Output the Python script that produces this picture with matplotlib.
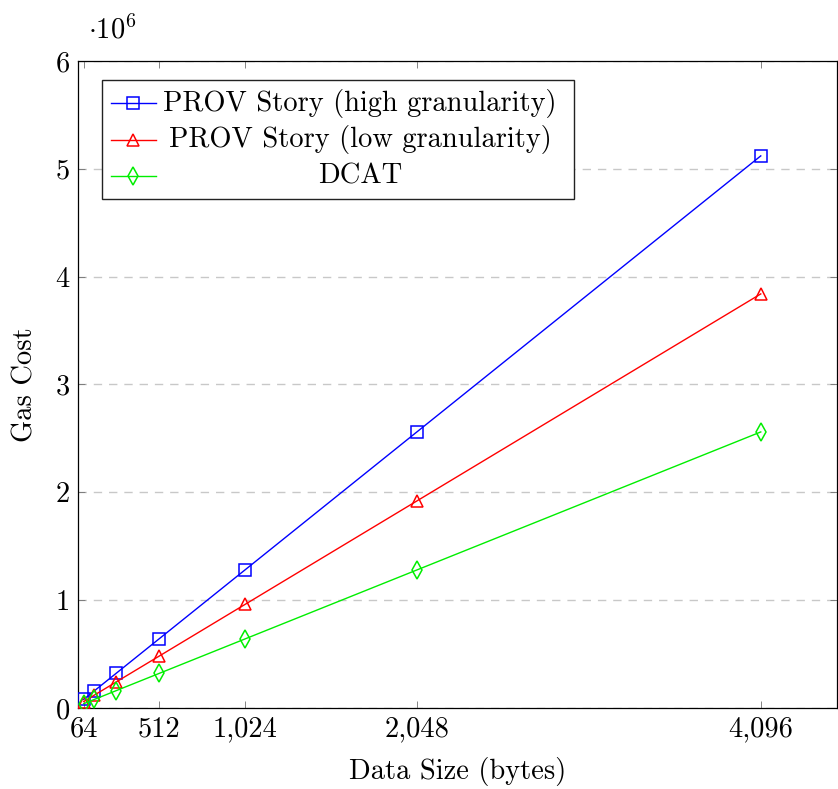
import matplotlib
matplotlib.use("Agg")
import matplotlib.pyplot as plt
from matplotlib.ticker import FuncFormatter
from matplotlib.lines import Line2D
from matplotlib.patches import Rectangle

plt.rcParams["font.family"] = ["cmr10", "DejaVu Serif"]
plt.rcParams["mathtext.fontset"] = "cm"
plt.rcParams["axes.formatter.use_mathtext"] = True

# data
data_size = [64, 128, 256, 512, 1024, 2048, 4096]
prov_high = [80000, 160000, 320000, 640000, 1280000, 2560000, 5120000]
prov_low = [60000, 120000, 240000, 480000, 960000, 1920000, 3840000]
dcat = [40000, 80000, 160000, 320000, 640000, 1280000, 2560000]
x_ticks = [64, 512, 1024, 2048, 4096]
y_ticks = [0, 1e6, 2e6, 3e6, 4e6, 5e6, 6e6]

series = [
    ("PROV Story (high granularity)", prov_high, "#0000ff", "s", 8),
    ("PROV Story (low granularity)", prov_low, "#ff0000", "^", 8),
    ("DCAT", dcat, "#00ee00", "d", 9),
]

FS = 20.5
W, H = 838, 789
fig = plt.figure(figsize=(W / 100, H / 100), dpi=100)
ax = fig.add_axes([78 / W, (H - 708) / H, (837 - 78) / W, (708 - 61) / H])

for label, vals, col, mk, ms in series:
    ax.plot(data_size, vals, color=col, lw=1.0, marker=mk, ms=ms,
            mfc="none", mec=col, mew=1.1, zorder=3)

ax.set_xlim(30, 4550)
ax.set_ylim(0, 6e6)
ax.set_xticks(x_ticks)
ax.set_yticks(y_ticks)
ax.xaxis.set_major_formatter(FuncFormatter(lambda v, p: f"{int(v):,}"))
ax.yaxis.set_major_formatter(FuncFormatter(lambda v, p: f"{v / 1e6:g}"))
ax.tick_params(direction="in", length=5, width=0.6, color="#707070",
               top=True, right=True, labelsize=FS, pad=6)
ax.grid(True, axis="y", color="#c8c8c8", ls=(0, (6, 5)), lw=1.0)
ax.set_axisbelow(True)
for s in ax.spines.values():
    s.set_linewidth(0.9)

ax.set_xlabel("Data Size (bytes)", fontsize=FS, labelpad=10)
ax.set_ylabel("Gas Cost", fontsize=FS, labelpad=12)
fig.text(88 / W, 1 - 30 / H, r"$\cdot 10^{6}$", fontsize=FS, va="center", ha="left")

# legend box drawn in figure pixels, labels centred like pgfplots
def fx(px):
    return px / W

def fy(py):
    return 1 - py / H

fig.patches.append(Rectangle((fx(102), fy(199)), fx(574) - fx(102), fy(80) - fy(199),
                             transform=fig.transFigure, fc="white", ec="#222222",
                             lw=1.0, zorder=5))
rows_y = [103, 140, 176]
for (label, vals, col, mk, ms), ry in zip(series, rows_y):
    fig.lines.append(Line2D([fx(111), fx(156)], [fy(ry), fy(ry)], transform=fig.transFigure,
                            color=col, lw=1.0, zorder=6))
    fig.lines.append(Line2D([fx(133)], [fy(ry)], transform=fig.transFigure, color=col,
                            marker=mk, ms=ms, mfc="none", mec=col, mew=1.1, zorder=6))
    fig.text(fx(360), fy(ry), label, fontsize=FS, ha="center", va="center", zorder=7)

fig.savefig("out.png", dpi=100)
